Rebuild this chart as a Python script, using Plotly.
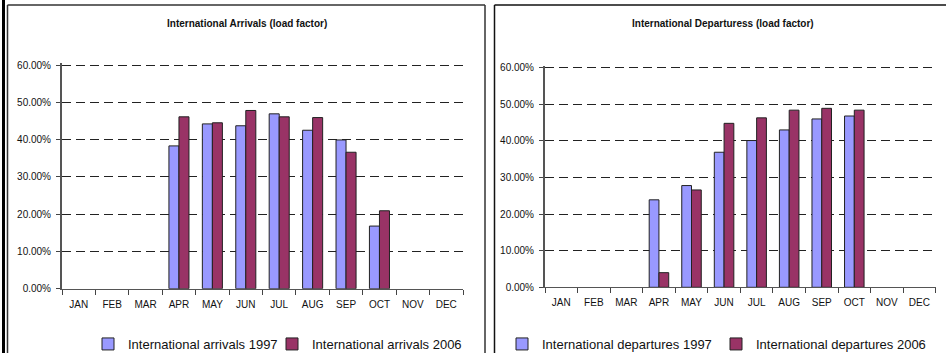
import plotly.graph_objects as go

months = ["JAN", "FEB", "MAR", "APR", "MAY", "JUN", "JUL", "AUG", "SEP", "OCT", "NOV", "DEC"]
arr_1997 = [None, None, None, 0.383, 0.442, 0.437, 0.469, 0.425, 0.399, 0.168, None, None]
arr_2006 = [None, None, None, 0.461, 0.445, 0.478, 0.461, 0.459, 0.366, 0.209, None, None]
dep_1997 = [None, None, None, 0.239, 0.278, 0.369, 0.401, 0.430, 0.460, 0.468, None, None]
dep_2006 = [None, None, None, 0.040, 0.266, 0.448, 0.463, 0.484, 0.489, 0.484, None, None]
yticks = [0, 0.1, 0.2, 0.3, 0.4, 0.5, 0.6]

W, H = 946, 353
C97 = "#9999FF"
C06 = "#993366"
FONT = "Liberation Sans, Arial, sans-serif"
YMAX = 0.606

def px(x):
    return x / W

def py(y):
    return (H - y) / H

fig = go.Figure()
line = dict(color="#222222", width=1)
series = [
    ("International arrivals 1997", arr_1997, C97, "x", "y", "legend"),
    ("International arrivals 2006", arr_2006, C06, "x", "y", "legend2"),
    ("International departures 1997", dep_1997, C97, "x2", "y2", "legend3"),
    ("International departures 2006", dep_2006, C06, "x2", "y2", "legend4"),
]
for name, vals, col, xa, ya, lg in series:
    fig.add_bar(x=months, y=vals, name=name, marker=dict(color=col, line=line),
                xaxis=xa, yaxis=ya, legend=lg, offsetgroup=name[-4:])

def xax(domain, anchor):
    return dict(domain=domain, anchor=anchor, type="category", categoryorder="array", categoryarray=months,
                tickson="boundaries", ticks="outside", ticklen=5, tickcolor="#444", tickwidth=1,
                tickangle=0, showline=True, linecolor="#555", linewidth=1, showgrid=False,
                ticklabelstandoff=6,
                tickfont=dict(size=10, color="#111", family=FONT), fixedrange=True, automargin=False)

def yax(domain, anchor):
    return dict(domain=domain, anchor=anchor, range=[0, YMAX], tickvals=yticks, tickformat=".2%",
                ticks="outside", ticklen=4, tickcolor="#444", showline=True, linecolor="#555", linewidth=2,
                showgrid=True, gridcolor="#222", gridwidth=1, griddash="9px,5px", zeroline=False,
                ticklabelstandoff=3,
                tickfont=dict(size=10, color="#111", family=FONT), fixedrange=True, automargin=False)

def leg(xpix):
    return dict(orientation="h", x=px(xpix), y=py(344), xanchor="left", yanchor="middle",
                font=dict(size=13, family=FONT, color="#111"), itemwidth=30,
                bgcolor="rgba(0,0,0,0)")

def ydom(y0pix, y60pix):
    top = y0pix - (y0pix - y60pix) * YMAX / 0.6
    return [py(y0pix), py(top)]

fig.update_layout(
    width=W, height=H,
    margin=dict(l=0, r=0, t=0, b=0, autoexpand=False),
    paper_bgcolor="white", plot_bgcolor="white",
    barmode="group", bargap=0.4, bargroupgap=0,
    font=dict(family=FONT, color="#111"),
    xaxis=xax([px(62), px(463)], "y"),
    yaxis=yax(ydom(288.7, 65), "x"),
    xaxis2=xax([px(545), px(935.7)], "y2"),
    yaxis2=yax(ydom(287.3, 67.7), "x2"),
    legend=leg(88),
    legend2=leg(272),
    legend3=leg(502),
    legend4=leg(716),
    showlegend=True,
    annotations=[
        dict(text="<b>International Arrivals (load factor)</b>", x=px(247), y=py(23), xref="paper", yref="paper",
             showarrow=False, font=dict(size=10, family=FONT, color="#111"), xanchor="center", yanchor="middle"),
        dict(text="<b>International Departuress (load factor)</b>", x=px(723), y=py(23), xref="paper", yref="paper",
             showarrow=False, font=dict(size=10, family=FONT, color="#111"), xanchor="center", yanchor="middle"),
    ],
    shapes=[
        dict(type="rect", xref="paper", yref="paper", x0=px(2), x1=px(5), y0=0, y1=1,
             fillcolor="black", line=dict(width=0)),
        dict(type="line", xref="paper", yref="paper", x0=px(7.5), x1=px(7.5), y0=0, y1=py(5),
             line=dict(color="#333", width=1.5)),
        dict(type="line", xref="paper", yref="paper", x0=px(7.5), x1=px(485), y0=py(5), y1=py(5),
             line=dict(color="#333", width=1.5)),
        dict(type="line", xref="paper", yref="paper", x0=px(485), x1=px(485), y0=0, y1=py(5),
             line=dict(color="#333", width=1.5)),
        dict(type="line", xref="paper", yref="paper", x0=px(494.5), x1=px(494.5), y0=0, y1=py(5),
             line=dict(color="#111", width=1.5)),
        dict(type="line", xref="paper", yref="paper", x0=px(494.5), x1=1, y0=py(5), y1=py(5),
             line=dict(color="#111", width=1.5)),
    ],
)

fig.write_html("out.html")
